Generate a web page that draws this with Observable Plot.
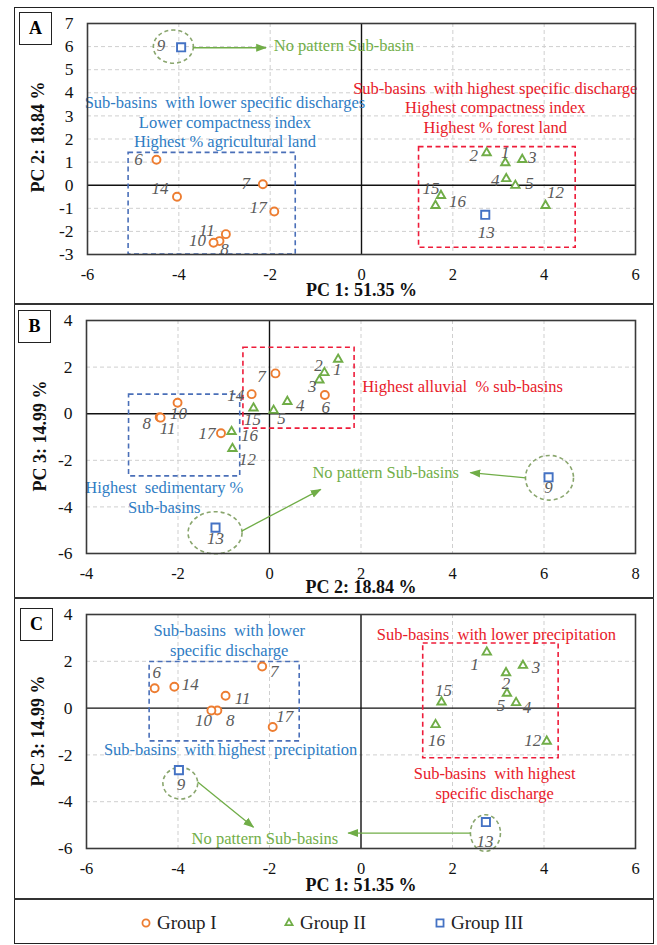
<!DOCTYPE html>
<html>
<head>
<meta charset="utf-8">
<script src="https://cdn.jsdelivr.net/npm/d3@7"></script>
<script src="https://cdn.jsdelivr.net/npm/@observablehq/plot@0.6"></script>
<style>
  html, body { margin: 0; padding: 0; background: #fff; }
  body { position: relative; width: 657px; height: 945px; overflow: hidden; font-family: 'Liberation Serif', 'Times New Roman', serif; }
  .abs { position: absolute; }
  .sep { position: absolute; left: 14px; width: 640px; height: 2px; background: #333; z-index: 5; }
  .letter { position: absolute; width: 31px; height: 31px; border: 1.5px solid #222; font-weight: bold; font-size: 18px; line-height: 31px; text-align: center; background: #fff; z-index: 6; }
  .leg { position: absolute; top: 911px; font-size: 19px; color: #222; line-height: 24px; z-index: 6; }
  .ytitle { position: absolute; font-weight: bold; font-size: 18px; color: #111; white-space: nowrap; transform: translate(-50%, -50%) rotate(-90deg); z-index: 4; }
</style>
</head>
<body>
<div id="frame" class="abs" style="left:14px; top:7px; width:640px; height:937px; border:1.5px solid #222; box-sizing:border-box; z-index:5; pointer-events:none"></div>
<div class="sep" style="top:303px"></div>
<div class="sep" style="top:597px"></div>
<div class="sep" style="top:898px"></div>
<div id="pA" class="abs" style="left:14px; top:7px"></div>
<div id="pB" class="abs" style="left:14px; top:304px"></div>
<div id="pC" class="abs" style="left:14px; top:598px"></div>
<div class="letter" style="left:19px; top:12px">A</div>
<div class="letter" style="left:18px; top:310px">B</div>
<div class="letter" style="left:20px; top:608px">C</div>
<div id="ytA" class="ytitle" style="left:38px; top:137px"></div>
<div id="ytB" class="ytitle" style="left:40px; top:436px"></div>
<div id="ytC" class="ytitle" style="left:38px; top:731px"></div>
<div id="legend"></div>
<script>
// ---------------- DATA ----------------
const subBasin = ["1","2","3","4","5","6","7","8","9","10","11","12","13","14","15","16","17"];
const group    = ["II","II","II","II","II","I","I","I","III","I","I","II","III","I","II","II","I"];

// Panel A: PC1 vs PC2
const pc1A = [3.15, 2.74, 3.52, 3.17, 3.37, -4.49, -2.16, -3.11, -3.95, -3.24, -2.97, 4.03, 2.71, -4.04, 1.74, 1.62, -1.91];
const pc2A = [0.97, 1.40, 1.11, 0.28, -0.01, 1.10, 0.04, -2.42, 5.97, -2.49, -2.12, -0.88, -1.28, -0.50, -0.45, -0.88, -1.14];
// Panel B: PC2 vs PC3
const pc2B = [1.50, 1.20, 1.09, 0.39, 0.09, 1.21, 0.13, -2.40, 6.10, -2.01, -2.38, -0.81, -1.18, -0.39, -0.35, -0.83, -1.06];
const pc3B = [2.33, 1.76, 1.44, 0.52, 0.14, 0.80, 1.73, -0.15, -2.73, 0.47, -0.17, -1.50, -4.89, 0.84, 0.24, -0.77, -0.84];
// Panel C: PC1 vs PC3
const pc1C = [2.75, 3.17, 3.54, 3.39, 3.19, -4.51, -2.16, -3.14, -3.98, -3.27, -2.96, 4.06, 2.73, -4.08, 1.76, 1.63, -1.93];
const pc3C = [2.39, 1.51, 1.82, 0.23, 0.63, 0.85, 1.78, -0.10, -2.65, -0.10, 0.53, -1.42, -4.87, 0.91, 0.26, -0.71, -0.81];

// Tick values
const ticksPC1 = [-6, -4, -2, 0, 2, 4, 6];
const ticksPC2A = [-3, -2, -1, 0, 1, 2, 3, 4, 5, 6, 7];
const ticksPC2B = [-4, -2, 0, 2, 4, 6, 8];
const ticksPC3 = [-6, -4, -2, 0, 2, 4];

// Axis titles
const titlePC1 = "PC 1: 51.35 %";
const titlePC2 = "PC 2: 18.84 %";
const titlePC3 = "PC 3: 14.99 %";

// Annotation texts
const annA = {
  blue: "Sub-basins  with lower specific discharges\nLower compactness index\nHighest % agricultural land",
  red: "Sub-basins  with highest specific discharge\nHighest compactness index\nHighest % forest land",
  green: "No pattern Sub-basin"
};
const annB = {
  red: "Highest alluvial  % sub-basins",
  blue: "Highest  sedimentary %\nSub-basins",
  green: "No pattern Sub-basins"
};
const annC = {
  blueTop: "Sub-basins  with lower\nspecific discharge",
  blueBottom: "Sub-basins  with highest  precipitation",
  redTop: "Sub-basins  with lower precipitation",
  redBottom: "Sub-basins  with highest\nspecific discharge",
  green: "No pattern Sub-basins"
};
const legendGroups = ["Group I", "Group II", "Group III"];

// ---------------- LAYOUT / STYLE ----------------
const SERIF = "'Liberation Serif','Times New Roman',serif";
const ORANGE = "#ED7D31", GREEN = "#70AD47", BLUE = "#4472C4";
const TXT_BLUE = "#2E7CC4", TXT_RED = "#E8202A", TXT_GREEN = "#72AE48";
const BOX_BLUE = "#4A6FB8", BOX_RED = "#EE1C3A", RING = "#8AA66E";

// label offsets in px (per sub-basin), per panel
const offA = [[0,-10],[-13,3],[10,-2],[-11,2],[14,-2],[-18,0],[-17,-1],[5,8],[-20,-2],[-16,-2],[-19,-4],[10,-13],[1,18],[-17,-8],[-10,-7],[22,-4],[-16,-4]];
const offB = [[-1,10],[-6,-7],[-7,6],[13,4],[8,8],[1,12],[-14,3],[-13,6],[0,10],[1,11],[7,11],[15,11],[0,11],[-16,1],[-1,11],[18,4],[-14,0]];
const offC = [[-12,12],[0,11],[13,2],[11,5],[-6,12],[2,-16],[12,5],[13,10],[2,14],[-8,10],[17,3],[-14,-1],[-1,19],[16,-2],[2,-11],[1,16],[12,-11]];

const idx = d3.range(subBasin.length);

function ellipseSymbol(ratio) {
  const k = 0.5523;
  return {
    draw(ctx, size) {
      const rx = Math.sqrt(size / Math.PI), ry = rx * ratio;
      ctx.moveTo(rx, 0);
      ctx.bezierCurveTo(rx, k * ry, k * rx, ry, 0, ry);
      ctx.bezierCurveTo(-k * rx, ry, -rx, k * ry, -rx, 0);
      ctx.bezierCurveTo(-rx, -k * ry, -k * rx, -ry, 0, -ry);
      ctx.bezierCurveTo(k * rx, -ry, rx, -k * ry, rx, 0);
      ctx.closePath();
    }
  };
}

function filledArrow(color) {
  const ns = "http://www.w3.org/2000/svg";
  const m = document.createElementNS(ns, "marker");
  m.setAttribute("viewBox", "-6 -5 12 10");
  m.setAttribute("markerWidth", "11");
  m.setAttribute("markerHeight", "9");
  m.setAttribute("markerUnits", "userSpaceOnUse");
  m.setAttribute("orient", "auto");
  m.setAttribute("refX", "5");
  m.setAttribute("refY", "0");
  const p = document.createElementNS(ns, "path");
  p.setAttribute("d", "M-6,-4.5L6,0L-6,4.5Z");
  p.setAttribute("fill", GREEN);
  p.setAttribute("stroke", "none");
  m.appendChild(p);
  return m;
}

function scatter(xs, ys) {
  const base = {x: i => xs[i], y: i => ys[i], fill: "white", strokeWidth: 1.9};
  return [
    Plot.dot(idx, {...base, filter: i => group[i] === "I", symbol: "circle", r: 4, stroke: ORANGE}),
    Plot.dot(idx, {...base, filter: i => group[i] === "II", symbol: "triangle", r: 3.1, stroke: GREEN}),
    Plot.dot(idx, {...base, filter: i => group[i] === "III", symbol: "square", r: 4.6, stroke: BLUE})
  ];
}

function labels(xs, ys, off) {
  return idx.map(i => Plot.text([i], {
    x: j => xs[j], y: j => ys[j], text: j => subBasin[j],
    dx: off[i][0], dy: off[i][1],
    fontStyle: "italic", fontSize: 17, fill: "#5a5a5a", fontFamily: SERIF
  }));
}

function grid(xTicks, yTicks) {
  return [
    Plot.ruleX(xTicks.filter(d => d !== 0), {x: d => d, stroke: "#cfcfcf", strokeDasharray: "4,3", strokeWidth: 1}),
    Plot.ruleY(yTicks.filter(d => d !== 0), {y: d => d, stroke: "#cfcfcf", strokeDasharray: "4,3", strokeWidth: 1}),
    Plot.ruleX([0], {x: d => d, stroke: "#111", strokeWidth: 1.4}),
    Plot.ruleY([0], {y: d => d, stroke: "#111", strokeWidth: 1.4})
  ];
}

function box(x1, x2, y1, y2, color) {
  return Plot.rect([0], {x1: () => x1, x2: () => x2, y1: () => y1, y2: () => y2,
    fill: "none", stroke: color, strokeWidth: 1.6, strokeDasharray: "5,3.5"});
}

function ring(x, y, r, ratio) {
  return Plot.dot([0], {x: () => x, y: () => y, r, symbol: ellipseSymbol(ratio),
    fill: "none", stroke: RING, strokeWidth: 1.6, strokeDasharray: "4,3"});
}

function arrow(x1, y1, x2, y2, useMarker) {
  if (useMarker) {
    return Plot.link([0], {x1: () => x1, y1: () => y1, x2: () => x2, y2: () => y2,
      stroke: GREEN, strokeWidth: 1.3, markerEnd: filledArrow});
  }
  return Plot.arrow([0], {x1: () => x1, y1: () => y1, x2: () => x2, y2: () => y2,
    stroke: GREEN, strokeWidth: 1.3, headLength: 9});
}

function note(x, y, text, color, anchor = "middle", size = 16.5) {
  return Plot.text([text], {x: () => x, y: () => y, text: d => d, fill: color,
    fontSize: size, fontFamily: SERIF, textAnchor: anchor, lineAnchor: "middle", lineHeight: 1.2});
}

function axes(xTicks, yTicks, xTitle, titleDy) {
  const fmt = d => String(d);
  return [
    Plot.axisX(xTicks, {anchor: "bottom", tickSize: 0, tickPadding: 14, fontSize: 16.5, tickFormat: fmt, label: null, fontFamily: SERIF}),
    Plot.axisY(yTicks, {anchor: "left", tickSize: 0, tickPadding: 14, fontSize: 17.5, tickFormat: fmt, label: null, fontFamily: SERIF}),
    Plot.text([xTitle], {frameAnchor: "bottom", dy: titleDy, text: d => d, fontWeight: "bold", fontSize: 18, fontFamily: SERIF, fill: "#111"})
  ];
}

function common(h, mt, mb, ml, mr, xd, yd) {
  return {
    width: 640, height: h, marginTop: mt, marginBottom: mb, marginLeft: ml, marginRight: mr,
    x: {domain: xd}, y: {domain: yd},
    style: {fontFamily: SERIF, background: "transparent", color: "#111", overflow: "visible"}
  };
}

function build(useMarker) {
  const A = Plot.plot({
    ...common(297, 16, 50, 73, 19, [-6, 6], [-3, 7]),
    marks: [
      ...grid(ticksPC1, ticksPC2A),
      box(-5.1, -1.44, 1.4, -3, BOX_BLUE),
      box(1.26, 4.69, 1.65, -2.71, BOX_RED),
      ring(-4.12, 6.0, 20, 0.83),
      arrow(-3.69, 5.95, -2.09, 5.95, useMarker),
      ...scatter(pc1A, pc2A),
      ...labels(pc1A, pc2A, offA),
      note(-2.99, 2.77, annA.blue, TXT_BLUE),
      note(2.93, 3.38, annA.red, TXT_RED),
      note(-1.92, 6.08, annA.green, TXT_GREEN, "start"),
      ...axes(ticksPC1, ticksPC2A, titlePC1, 41),
      Plot.frame({stroke: "#3a3a3a", strokeWidth: 1.6})
    ]
  });
  const B = Plot.plot({
    ...common(294, 16, 45, 72, 19, [-4, 8], [-6, 4]),
    marks: [
      ...grid(ticksPC2B, ticksPC3),
      box(-3.07, -0.64, 0.82, -2.69, BOX_BLUE),
      box(-0.57, 1.86, 2.83, -0.64, BOX_RED),
      ring(6.12, -2.75, 24, 0.93),
      ring(-1.19, -5.11, 27, 0.78),
      arrow(5.60, -2.75, 4.39, -2.53, useMarker),
      arrow(-0.61, -5.04, 1.12, -3.25, useMarker),
      ...scatter(pc2B, pc3B),
      ...labels(pc2B, pc3B, offB),
      note(4.22, 1.19, annB.red, TXT_RED),
      note(-2.3, -3.57, annB.blue, TXT_BLUE),
      note(2.54, -2.49, annB.green, TXT_GREEN),
      ...axes(ticksPC2B, ticksPC3, titlePC2, 39),
      Plot.frame({stroke: "#3a3a3a", strokeWidth: 1.6})
    ]
  });
  const C = Plot.plot({
    ...common(301, 16, 51, 72, 19, [-6, 6], [-6, 4]),
    marks: [
      ...grid(ticksPC1, ticksPC3),
      box(-4.62, -1.34, 1.97, -1.42, BOX_BLUE),
      box(1.36, 4.32, 2.76, -2.14, BOX_RED),
      ring(-3.95, -3.21, 17.4, 0.91),
      ring(2.72, -5.34, 15, 1.22),
      arrow(-3.57, -3.16, -2.35, -5.09, useMarker),
      arrow(2.39, -5.34, -0.28, -5.34, useMarker),
      ...scatter(pc1C, pc3C),
      ...labels(pc1C, pc3C, offC),
      note(-2.88, 2.93, annC.blueTop, TXT_BLUE),
      note(-2.85, -1.74, annC.blueBottom, TXT_BLUE),
      note(2.96, 3.18, annC.redTop, TXT_RED),
      note(2.92, -3.18, annC.redBottom, TXT_RED),
      note(-2.10, -5.53, annC.green, TXT_GREEN),
      ...axes(ticksPC1, ticksPC3, titlePC1, 42),
      Plot.frame({stroke: "#3a3a3a", strokeWidth: 1.6})
    ]
  });
  return [A, B, C];
}

let charts;
try { charts = build(true); } catch (e) { charts = build(false); }
document.getElementById("pA").appendChild(charts[0]);
document.getElementById("pB").appendChild(charts[1]);
document.getElementById("pC").appendChild(charts[2]);
document.getElementById("ytA").textContent = titlePC2;
document.getElementById("ytB").textContent = titlePC3;
document.getElementById("ytC").textContent = titlePC3;

// Legend
const legendSymbols = ["circle", "triangle", "square"];
const legendColors = [ORANGE, GREEN, BLUE];
const legendX = [139, 282, 433];
const leg = document.getElementById("legend");
legendGroups.forEach((g, i) => {
  const item = document.createElement("div");
  item.className = "leg";
  item.style.left = legendX[i] + "px";
  item.style.display = "flex";
  item.style.alignItems = "center";
  const s = d3.create("svg").attr("width", 14).attr("height", 14).style("margin-right", "4px");
  const sizes = {circle: 40, triangle: 22, square: 50};
  s.append("path")
    .attr("transform", "translate(7,7)")
    .attr("d", d3.symbol(legendSymbols[i] === "circle" ? d3.symbolCircle : legendSymbols[i] === "triangle" ? d3.symbolTriangle : d3.symbolSquare, sizes[legendSymbols[i]])())
    .attr("fill", "white").attr("stroke", legendColors[i]).attr("stroke-width", 1.8);
  item.appendChild(s.node());
  const t = document.createElement("span");
  t.textContent = g;
  item.appendChild(t);
  leg.appendChild(item);
});
</script>
</body>
</html>
